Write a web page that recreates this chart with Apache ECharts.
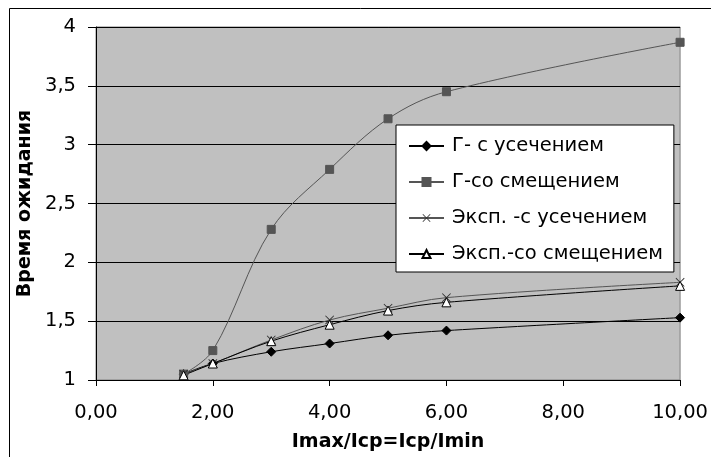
<!DOCTYPE html>
<html>
<head>
<meta charset="utf-8">
<script src="https://cdn.jsdelivr.net/npm/echarts@6/dist/echarts.min.js"></script>
<style>
  html, body { margin: 0; padding: 0; background: #fff; }
  #chart { width: 711px; height: 457px; }
</style>
</head>
<body>
<div id="chart"></div>
<script>
// данные
var xValues = [1.5, 2, 3, 4, 5, 6, 10]
var seriesNames = ['Г- с усечением', 'Г-со смещением', 'Эксп. -с усечением', 'Эксп.-со смещением']
var gTrunc = [1.05, 1.14, 1.24, 1.31, 1.38, 1.42, 1.53]
var gShift = [1.05, 1.25, 2.28, 2.79, 3.22, 3.45, 3.87]
var expTrunc = [1.05, 1.14, 1.34, 1.51, 1.61, 1.70, 1.83]
var expShift = [1.04, 1.14, 1.33, 1.47, 1.59, 1.66, 1.80]

var fontFamily = 'DejaVu Sans, sans-serif'
var fontSize = 19.5
var crossPath = 'path://M0,0.7L0.7,0L5,4.3L9.3,0L10,0.7L5.7,5L10,9.3L9.3,10L5,5.7L0.7,10L0,9.3L4.3,5Z'

function pairs (ys) {
  return xValues.map(function (x, i) { return [x, ys[i]] })
}

function makeSeries (name, ys, color, symbol, size, fill, border) {
  return {
    name: name,
    type: 'line',
    smooth: 0.35,
    data: pairs(ys),
    symbol: symbol,
    symbolSize: size,
    showAllSymbol: true,
    lineStyle: { color: color, width: 1 },
    itemStyle: { color: fill || color, borderColor: color, borderWidth: border === undefined ? 1 : border },
    emphasis: { disabled: true }
  }
}

var myChart = echarts.init(document.getElementById('chart'))
myChart.setOption({
  animation: false,
  textStyle: { fontFamily: fontFamily },
  graphic: [{
    type: 'rect',
    shape: { x: 9.5, y: 8.5, width: 720, height: 470 },
    style: { fill: null, stroke: '#000', lineWidth: 1 },
    silent: true
  }],
  grid: {
    left: 96,
    right: 30,
    top: 27,
    bottom: 76,
    show: true,
    backgroundColor: '#c0c0c0',
    borderColor: '#808080',
    borderWidth: 1
  },
  legend: {
    orient: 'vertical',
    left: 396,
    top: 125,
    padding: [11, 11, 8, 12],
    itemGap: 16,
    itemWidth: 35,
    itemHeight: 10,
    backgroundColor: '#fff',
    borderColor: '#000',
    borderWidth: 1,
    textStyle: { fontSize: fontSize, color: '#000', fontFamily: fontFamily, lineHeight: 20, padding: [0, 0, 0, 3] },
    data: seriesNames
  },
  xAxis: {
    type: 'value',
    min: 0,
    max: 10,
    interval: 2,
    name: 'Imax/Iср=Iср/Imin',
    nameLocation: 'middle',
    nameGap: 53,
    nameTextStyle: { fontSize: 19, fontWeight: 'bold', color: '#000', fontFamily: fontFamily },
    axisLine: { onZero: false, lineStyle: { color: '#000', width: 1 } },
    axisTick: { show: true, length: 6, lineStyle: { color: '#000' } },
    axisLabel: {
      fontSize: fontSize,
      color: '#000',
      margin: 23,
      formatter: function (v) { return v.toFixed(2).replace('.', ',') }
    },
    splitLine: { show: false }
  },
  yAxis: {
    type: 'value',
    min: 1,
    max: 4,
    interval: 0.5,
    name: 'Время ожидания',
    nameLocation: 'middle',
    nameGap: 53,
    nameTextStyle: { fontSize: 19, fontWeight: 'bold', color: '#000', fontFamily: fontFamily },
    axisLine: { show: true, lineStyle: { color: '#000', width: 1 } },
    axisTick: { show: true, length: 8, lineStyle: { color: '#000' } },
    axisLabel: {
      fontSize: fontSize,
      color: '#000',
      margin: 20,
      formatter: function (v) { return String(v).replace('.', ',') }
    },
    splitLine: { show: true, lineStyle: { color: '#000', width: 1 } }
  },
  series: [
    makeSeries(seriesNames[0], gTrunc, '#000', 'diamond', 9),
    makeSeries(seriesNames[1], gShift, '#555', 'rect', 8),
    makeSeries(seriesNames[2], expTrunc, '#555', crossPath, 9, '#333', 0),
    makeSeries(seriesNames[3], expShift, '#000', 'triangle', 9, '#fff')
  ]
})
</script>
</body>
</html>
